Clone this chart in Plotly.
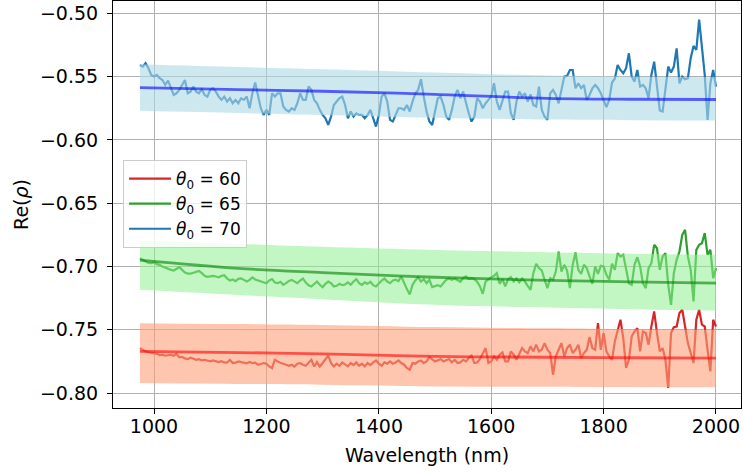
import plotly.graph_objects as go

# ---------------- data ----------------
wavelength = list(range(975, 2005, 5))  # nm sampling grid

re_rho_70 = [
    -0.5408, -0.5421, -0.5395, -0.5434, -0.5487, -0.5500, -0.5487, -0.5513, -0.5527, -0.5566,
    -0.5532, -0.5592, -0.5645, -0.5632, -0.5605, -0.5566, -0.5527, -0.5632, -0.5619, -0.5579,
    -0.5619, -0.5632, -0.5600, -0.5645, -0.5658, -0.5605, -0.5592, -0.5619, -0.5658, -0.5684,
    -0.5658, -0.5697, -0.5671, -0.5711, -0.5684, -0.5711, -0.5671, -0.5684, -0.5658, -0.5750,
    -0.5632, -0.5547, -0.5658, -0.5750, -0.5803, -0.5763, -0.5803, -0.5632, -0.5658, -0.5632,
    -0.5632, -0.5737, -0.5763, -0.5776, -0.5750, -0.5763, -0.5711, -0.5632, -0.5684, -0.5684,
    -0.5579, -0.5605, -0.5684, -0.5711, -0.5763, -0.5803,
    -0.5829, -0.5882, -0.5816, -0.5724, -0.5697, -0.5671, -0.5658, -0.5724, -0.5829, -0.5776,
    -0.5816, -0.5790, -0.5803, -0.5803, -0.5829, -0.5803, -0.5763, -0.5829, -0.5895, -0.5803,
    -0.5658, -0.5632, -0.5697, -0.5842, -0.5855, -0.5803, -0.5750, -0.5750, -0.5763, -0.5724,
    -0.5776, -0.5697, -0.5632, -0.5605, -0.5521, -0.5658, -0.5776, -0.5855, -0.5882, -0.5776,
    -0.5671, -0.5658, -0.5724, -0.5816, -0.5842, -0.5763, -0.5658, -0.5605, -0.5671, -0.5619,
    -0.5711, -0.5790, -0.5855, -0.5816, -0.5671, -0.5697, -0.5750, -0.5711, -0.5684, -0.5658,
    -0.5553, -0.5697, -0.5763, -0.5697, -0.5619, -0.5619, -0.5790, -0.5842, -0.5697, -0.5619,
    -0.5658, -0.5632, -0.5697,
    -0.5640, -0.5724, -0.5737, -0.5579, -0.5763, -0.5816, -0.5842, -0.5632, -0.5605, -0.5645,
    -0.5711, -0.5611, -0.5500, -0.5495, -0.5448, -0.5448, -0.5592, -0.5553, -0.5592, -0.5566,
    -0.5684, -0.5645, -0.5592, -0.5566, -0.5592, -0.5632, -0.5684, -0.5742, -0.5684, -0.5547,
    -0.5516, -0.5408, -0.5448, -0.5474, -0.5434, -0.5316, -0.5500, -0.5540, -0.5448, -0.5579,
    -0.5566, -0.5592, -0.5671, -0.5487, -0.5382, -0.5579, -0.5768, -0.5776, -0.5579, -0.5421,
    -0.5469, -0.5421, -0.5277, -0.5553, -0.5500, -0.5521, -0.5513, -0.5355, -0.5258, -0.5290,
    -0.5050, -0.5290, -0.5487, -0.5842, -0.5553, -0.5448, -0.5579,
]

re_rho_65 = [
    -0.6935, -0.6948, -0.6964, -0.6972, -0.6974, -0.6969, -0.6982, -0.6987, -0.7001, -0.7011,
    -0.7019, -0.7027, -0.7032, -0.7019, -0.7006, -0.7027, -0.7048, -0.7056, -0.7056, -0.7050,
    -0.7043, -0.7035, -0.7053, -0.7074, -0.7082, -0.7077, -0.7074, -0.7079, -0.7085, -0.7074,
    -0.7069, -0.7095, -0.7111, -0.7103, -0.7116, -0.7098, -0.7095, -0.7106, -0.7119, -0.7106,
    -0.7087, -0.7103, -0.7111, -0.7114, -0.7121, -0.7132, -0.7111, -0.7100, -0.7127, -0.7132,
    -0.7121, -0.7145, -0.7132, -0.7114, -0.7106, -0.7121, -0.7132, -0.7111, -0.7095, -0.7127,
    -0.7148, -0.7158, -0.7137, -0.7119, -0.7145, -0.7164,
    -0.7137, -0.7119, -0.7132, -0.7158, -0.7153, -0.7137, -0.7148, -0.7142, -0.7126, -0.7145,
    -0.7119, -0.7100, -0.7132, -0.7145, -0.7126, -0.7137, -0.7121, -0.7148, -0.7158, -0.7132,
    -0.7111, -0.7095, -0.7119, -0.7132, -0.7111, -0.7105, -0.7116, -0.7079, -0.7132, -0.7179,
    -0.7221, -0.7145, -0.7111, -0.7084, -0.7119, -0.7100, -0.7132, -0.7105,
    -0.7163, -0.7153, -0.7148, -0.7158, -0.7132, -0.7105, -0.7095, -0.7105, -0.7095, -0.7111,
    -0.7121, -0.7092, -0.7079, -0.7100, -0.7095, -0.7100, -0.7121, -0.7158, -0.7216, -0.7119,
    -0.7100, -0.7084, -0.7074, -0.7053, -0.7137, -0.7100, -0.7158, -0.7100, -0.7084, -0.7119,
    -0.7095, -0.7126, -0.7095, -0.7119, -0.7153, -0.7184, -0.7053, -0.6979, -0.7013, -0.7032,
    -0.7105, -0.7171, -0.7092, -0.7105, -0.7040, -0.6882, -0.7040, -0.6987, -0.7032, -0.7171,
    -0.6987, -0.6890, -0.7027, -0.7058, -0.6987, -0.7013, -0.7079, -0.7137, -0.7000, -0.7058,
    -0.6995, -0.7000, -0.7066, -0.7105, -0.6979, -0.7027, -0.6895, -0.6921, -0.6908, -0.7027,
    -0.7132, -0.7145, -0.6987, -0.6927, -0.7000, -0.7132, -0.7171, -0.7013, -0.6974, -0.6829,
    -0.6856, -0.7027, -0.6921, -0.6895, -0.7145, -0.7303, -0.7053, -0.6948, -0.6882, -0.6750,
    -0.6711, -0.6921, -0.7027, -0.7276, -0.6869, -0.6829, -0.6816, -0.6737, -0.6908, -0.6869,
    -0.7092, -0.7013,
]

re_rho_60 = [
    -0.7645, -0.7660, -0.7671, -0.7678, -0.7682, -0.7684, -0.7690, -0.7700, -0.7697, -0.7705,
    -0.7702, -0.7697, -0.7705, -0.7690, -0.7718, -0.7715, -0.7726, -0.7732, -0.7721, -0.7726,
    -0.7737, -0.7732, -0.7742, -0.7737, -0.7745, -0.7750, -0.7742, -0.7750, -0.7755, -0.7748,
    -0.7758, -0.7760, -0.7737, -0.7763, -0.7760, -0.7750, -0.7755, -0.7763, -0.7765, -0.7755,
    -0.7763, -0.7760, -0.7776, -0.7770, -0.7763, -0.7768, -0.7790, -0.7803, -0.7737, -0.7750,
    -0.7763, -0.7768, -0.7776, -0.7784, -0.7776, -0.7790, -0.7768, -0.7763, -0.7776, -0.7784,
    -0.7760, -0.7737, -0.7790, -0.7755, -0.7790, -0.7763,
    -0.7737, -0.7705, -0.7763, -0.7789, -0.7768, -0.7784, -0.7758, -0.7776, -0.7789, -0.7763,
    -0.7779, -0.7758, -0.7784, -0.7768, -0.7789, -0.7763, -0.7779, -0.7758, -0.7742, -0.7768,
    -0.7784, -0.7758, -0.7768, -0.7750, -0.7768, -0.7758, -0.7742, -0.7763, -0.7776, -0.7802,
    -0.7816, -0.7763, -0.7768, -0.7750, -0.7742, -0.7763, -0.7750, -0.7716,
    -0.7731, -0.7750, -0.7742, -0.7731, -0.7750, -0.7742, -0.7731, -0.7758, -0.7737, -0.7763,
    -0.7758, -0.7737, -0.7750, -0.7724, -0.7705, -0.7763, -0.7758, -0.7731, -0.7684, -0.7645,
    -0.7763, -0.7750, -0.7710, -0.7737, -0.7697, -0.7679, -0.7750, -0.7750, -0.7671, -0.7697,
    -0.7737, -0.7684, -0.7645, -0.7671, -0.7684, -0.7631, -0.7671, -0.7618, -0.7671, -0.7658,
    -0.7605, -0.7658, -0.7684, -0.7855, -0.7710, -0.7658, -0.7605, -0.7710, -0.7645, -0.7618,
    -0.7684, -0.7658, -0.7618, -0.7724, -0.7684, -0.7658, -0.7558, -0.7645, -0.7658, -0.7447,
    -0.7658, -0.7526, -0.7671, -0.7710, -0.7737, -0.7592, -0.7500, -0.7421, -0.7566, -0.7802,
    -0.7737, -0.7553, -0.7513, -0.7487, -0.7671, -0.7513, -0.7526, -0.7618, -0.7474, -0.7355,
    -0.7526, -0.7671, -0.7645, -0.7737, -0.7960, -0.7526, -0.7479, -0.7474, -0.7368, -0.7342,
    -0.7474, -0.7605, -0.7684, -0.7763, -0.7421, -0.7342, -0.7460, -0.7474, -0.7658, -0.7829,
    -0.7421, -0.7474,
]

# fitted curves and uncertainty bands (read at a few wavelengths)
fit_wavelength = [975, 1150, 1300, 1500, 1700, 1850, 2000]

fit_70 = [-0.5587, -0.5603, -0.5616, -0.5640, -0.5672, -0.5679, -0.5681]
band_hi_70 = [-0.5403, -0.5425, -0.5442, -0.5468, -0.5492, -0.5500, -0.5505]
band_lo_70 = [-0.5770, -0.5788, -0.5803, -0.5825, -0.5840, -0.5845, -0.5847]

fit_65 = [-0.6950, -0.7015, -0.7048, -0.7085, -0.7110, -0.7122, -0.7131]
band_hi_65 = [-0.6795, -0.6822, -0.6845, -0.6870, -0.6888, -0.6900, -0.6908]
band_lo_65 = [-0.7184, -0.7225, -0.7258, -0.7303, -0.7325, -0.7338, -0.7348]

fit_60 = [-0.7670, -0.7680, -0.7690, -0.7710, -0.7717, -0.7721, -0.7724]
band_hi_60 = [-0.7448, -0.7455, -0.7462, -0.7479, -0.7488, -0.7495, -0.7500]
band_lo_60 = [-0.7921, -0.7928, -0.7935, -0.7948, -0.7950, -0.7953, -0.7955]

labels = ["<i>θ</i><sub>0</sub> = 60", "<i>θ</i><sub>0</sub> = 65", "<i>θ</i><sub>0</sub> = 70"]
x_ticks = [1000, 1200, 1400, 1600, 1800, 2000]

# ---------------- figure ----------------
series = [
    (re_rho_60, fit_60, band_lo_60, band_hi_60, labels[0], "#d62728",
     "rgba(255,160,122,0.6)", "rgba(255,0,0,0.6)"),
    (re_rho_65, fit_65, band_lo_65, band_hi_65, labels[1], "#2ca02c",
     "rgba(144,238,144,0.55)", "rgba(0,128,0,0.6)"),
    (re_rho_70, fit_70, band_lo_70, band_hi_70, labels[2], "#1f77b4",
     "rgba(173,216,230,0.6)", "rgba(0,0,255,0.6)"),
]

fig = go.Figure()
for i, (y, fit, lo, hi, lab, col, bandcol, fitcol) in enumerate(series):
    fig.add_trace(go.Scatter(x=wavelength, y=y, mode="lines", name=lab,
                             line=dict(color=col, width=2.2),
                             legendgroup=f"g{i}", showlegend=True))
    fig.add_trace(go.Scatter(x=fit_wavelength, y=lo, mode="lines",
                             line=dict(width=0, color=bandcol, shape="spline"),
                             showlegend=False, hoverinfo="skip"))
    fig.add_trace(go.Scatter(x=fit_wavelength, y=hi, mode="lines",
                             line=dict(width=0, color=bandcol, shape="spline"),
                             fill="tonexty", fillcolor=bandcol,
                             showlegend=False, hoverinfo="skip"))
    fig.add_trace(go.Scatter(x=fit_wavelength, y=fit, mode="lines",
                             line=dict(color=fitcol, width=2.8, shape="spline"),
                             showlegend=False))

FS = 19
font = dict(family="DejaVu Sans", size=FS, color="black")
fig.update_layout(
    width=743, height=475,
    margin=dict(l=113, r=2, t=1, b=67),
    paper_bgcolor="white", plot_bgcolor="white",
    font=font,
    showlegend=True,
    legend=dict(x=0.016, y=1 - 159 / 407, xanchor="left", yanchor="top",
                bgcolor="rgba(255,255,255,0.8)", bordercolor="#cccccc", borderwidth=1,
                font=dict(family="DejaVu Sans", size=17, color="black"),
                itemwidth=42, tracegroupgap=10, traceorder="normal",
                entrywidth=80, entrywidthmode="pixels"),
)
fig.update_xaxes(
    range=[927, 2044.5], tickvals=x_ticks, ticktext=[str(t) for t in x_ticks],
    showgrid=True, gridcolor="#b0b0b0", gridwidth=1,
    showline=True, linecolor="black", linewidth=1, mirror=True,
    ticks="outside", ticklen=5, tickcolor="black", ticklabelstandoff=-4,
    title=dict(text="Wavelength (nm)", font=font, standoff=12),
    zeroline=False,
)
fig.update_yaxes(
    range=[-0.8118, -0.4903], dtick=0.05, tick0=-0.8, tickformat=".2f",
    showgrid=True, gridcolor="#b0b0b0", gridwidth=1,
    showline=True, linecolor="black", linewidth=1, mirror=True,
    ticks="outside", ticklen=5, tickcolor="black", ticklabelstandoff=5,
    title=dict(text="Re(<i>ρ</i>)", font=font, standoff=6),
    zeroline=False,
)

fig.write_html("out.html", config={"displayModeBar": False},
               post_script="document.body.style.margin='0px';document.body.style.overflow='hidden';")
